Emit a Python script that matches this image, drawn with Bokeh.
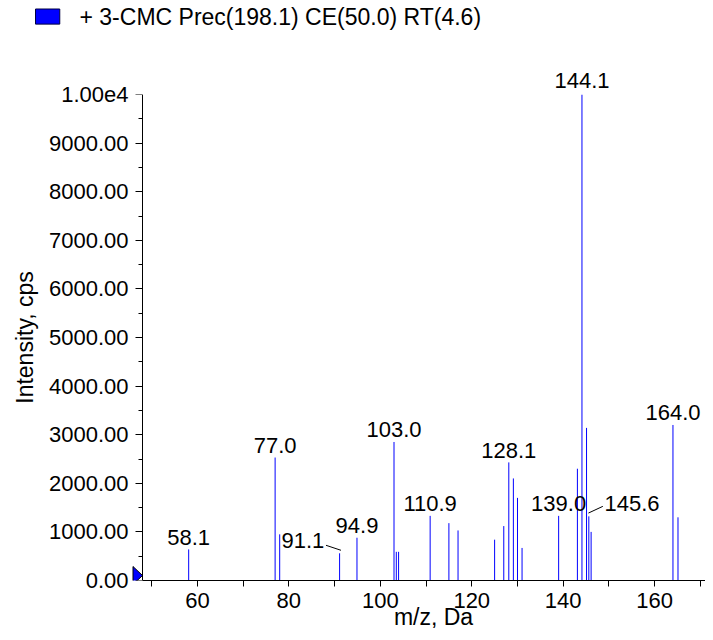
from bokeh.plotting import figure
from bokeh.models import (ColumnDataSource, Range1d, FixedTicker, LabelSet, Label,
                          LinearAxis)
from bokeh.core.properties import value
from bokeh.embed import file_html
from bokeh.resources import INLINE

# ---------------- data ----------------
mz = [58.1, 77.0, 78.0, 91.1, 94.9, 103.0, 103.5, 104.0, 110.9, 115.0, 117.0,
      125.0, 127.0, 128.1, 129.1, 130.0, 131.0, 139.0, 143.1, 144.1, 145.1,
      145.6, 146.1, 164.0, 165.1]
intensity = [640, 2530, 950, 560, 880, 2850, 590, 590, 1330, 1180, 1030,
             840, 1120, 2430, 2100, 1700, 670, 1330, 2300, 10000, 3140,
             1320, 1000, 3200, 1300]
labelled_mz = [58.1, 77.0, 91.1, 94.9, 103.0, 110.9, 128.1, 139.0, 144.1, 145.6, 164.0]

x_ticks = [60, 80, 100, 120, 140, 160]
x_minor_ticks = [50, 70, 90, 110, 130, 150, 170]
y_ticks = [0, 1000, 2000, 3000, 4000, 5000, 6000, 7000, 8000, 9000, 10000]
y_tick_labels = ["0.00", "1000.00", "2000.00", "3000.00", "4000.00", "5000.00",
                 "6000.00", "7000.00", "8000.00", "9000.00", "1.00e4"]
y_minor_ticks = [500, 1500, 2500, 3500, 4500, 5500, 6500, 7500, 8500, 9500]

series_name = "+ 3-CMC Prec(198.1) CE(50.0) RT(4.6)"
x_axis_title = "m/z, Da"
y_axis_title = "Intensity, cps"

# ---------------- layout / style ----------------
W, H = 705, 632
LEFT = 131                        # frame left edge (canvas px)
AXIS_PX = 142                     # y axis line (canvas px)
X_AXIS_START = 48.0               # m/z at the y axis line
TOP, FRAME_H = 94, 486
FRAME_W = W - LEFT
BOTTOM = TOP + FRAME_H            # canvas y of the x axis
X_PX = 4.573                      # pixels per m/z unit
X0 = X_AXIS_START - (AXIS_PX - LEFT) / X_PX
X1 = X0 + FRAME_W / X_PX
Y0, Y1 = 0, 10000
Y_PX = FRAME_H / (Y1 - Y0)
FONT = "Liberation Sans"
BLUE = "#0000ff"
LABEL_SHIFT = 0.435               # Label draws its baseline this many font sizes low


def dx(px):
    """canvas x pixel -> data x"""
    return X0 + (px - LEFT) / X_PX


def dy(py):
    """canvas y pixel -> data y"""
    return Y0 + (BOTTOM - py) / Y_PX


def text_label(px, baseline_py, text, size, align="left"):
    return Label(x=dx(px), y=dy(baseline_py - LABEL_SHIFT * size), text=text,
                 text_align=align, text_baseline="alphabetic",
                 text_font=FONT, text_font_size=f"{size}px", text_color="black")


# callout labels: (align, dx px, dy px, leader (dx0, dy0, dx1, dy1) px)
callouts = {
    91.1: ("right", -15.3, 5.6, (-13.6, 8.0, 1.4, 3.0)),
    145.6: ("left", 15.6, 5.0, (-0.4, 3.3, 14.0, 10.0)),
}
LABEL_GAP = 4.5

p = figure(width=W, height=H, x_range=Range1d(X0, X1), y_range=Range1d(Y0, Y1),
           output_backend="svg", toolbar_location=None, y_axis_location=None,
           min_border_left=LEFT, min_border_right=0, min_border_top=TOP,
           min_border_bottom=H - BOTTOM)
p.outline_line_color = None
p.xgrid.visible = False
p.ygrid.visible = False
p.background_fill_color = "white"
p.border_fill_color = "white"

src = ColumnDataSource(dict(mz=mz, intensity=intensity))
p.segment(x0="mz", y0=0, x1="mz", y1="intensity", source=src,
          line_color=BLUE, line_width=1)

# peak labels
inten_of = dict(zip(mz, intensity))
groups = {}
for m in labelled_mz:
    if inten_of[m] >= Y1:
        # label sits above the plot frame -> free label (not clipped)
        p.add_layout(Label(x=m, y=inten_of[m], text=f"{m:.1f}",
                           y_offset=LABEL_GAP + LABEL_SHIFT * 22,
                           text_align="center", text_baseline="alphabetic",
                           text_font=FONT, text_font_size="22px",
                           text_color="black"), "above")
        continue
    if m in callouts:
        align, ox, oy, _ = callouts[m]
    else:
        align, ox, oy = "center", 0, LABEL_GAP
    groups.setdefault((align, ox, oy), []).append(m)

for (align, ox, oy), ms in groups.items():
    lsrc = ColumnDataSource(dict(x=ms, y=[inten_of[m] for m in ms],
                                 text=[f"{m:.1f}" for m in ms]))
    p.add_layout(LabelSet(x="x", y="y", text="text", source=lsrc,
                          text_align=align, text_baseline="alphabetic",
                          x_offset=ox, y_offset=oy,
                          text_font=value(FONT), text_font_size=value("22px"),
                          text_color="black"))

# leader lines
lx0, ly0, lx1, ly1 = [], [], [], []
for m, (_, _, _, (a, b, c, d)) in callouts.items():
    lx0.append(m + a / X_PX)
    ly0.append(inten_of[m] + b / Y_PX)
    lx1.append(m + c / X_PX)
    ly1.append(inten_of[m] + d / Y_PX)
p.segment(x0=lx0, y0=ly0, x1=lx1, y1=ly1, line_color="black", line_width=1)

# x axis
xa = p.xaxis[0]
xa.ticker = FixedTicker(ticks=x_ticks, minor_ticks=x_minor_ticks)
xa.bounds = (X_AXIS_START, X1)
xa.major_tick_out = 6
xa.major_tick_in = 0
xa.minor_tick_out = 6
xa.minor_tick_in = 0
xa.major_label_standoff = 6
xa.major_label_text_font = FONT
xa.major_label_text_font_size = "22px"
xa.major_label_text_color = "black"
xa.axis_line_color = "black"
xa.major_tick_line_color = "black"
xa.minor_tick_line_color = "black"

# y axis: labels + title (in the left panel, next to the frame)
y_ticker = FixedTicker(ticks=y_ticks, minor_ticks=y_minor_ticks)
ya_text = LinearAxis(ticker=y_ticker, bounds=(Y0, Y1),
                     major_label_overrides={t: l for t, l in zip(y_ticks, y_tick_labels)},
                     axis_line_color=None, major_tick_line_color=None,
                     minor_tick_line_color=None,
                     major_tick_out=0, major_tick_in=0, minor_tick_out=0, minor_tick_in=0,
                     major_label_standoff=3,
                     major_label_text_font=FONT, major_label_text_font_size="22px",
                     major_label_text_color="black",
                     axis_label=y_axis_title, axis_label_text_font=FONT,
                     axis_label_text_font_size="23px", axis_label_text_font_style="normal",
                     axis_label_text_color="black", axis_label_standoff=8)
p.add_layout(ya_text, "left")

# y axis: line + ticks, drawn at m/z = X_AXIS_START
ya_rule = LinearAxis(ticker=y_ticker, bounds=(Y0, Y1), fixed_location=X_AXIS_START,
                     major_label_overrides={t: "" for t in y_ticks},
                     major_label_standoff=0,
                     major_tick_out=7, major_tick_in=0, minor_tick_out=4, minor_tick_in=0,
                     axis_line_color="black", major_tick_line_color="black",
                     minor_tick_line_color="black")
p.add_layout(ya_rule, "left")

# x-axis title
p.add_layout(text_label(433, 627, x_axis_title, 23, align="center"), "above")

# pointer triangle at the origin (inside the frame, left of the y axis)
p.patch(x=[dx(132.5), dx(AXIS_PX), dx(132.5)], y=[dy(566), dy(575), dy(584)],
        fill_color=BLUE, line_color="black", line_width=1)

# legend: swatch + series name
p.add_layout(Label(x=dx(35), y=dy(8.5), text="\u00a0", anchor="top_left",
                   text_font=FONT, text_font_size="1px", text_color=BLUE,
                   padding=dict(left=12, right=12, top=7, bottom=7),
                   background_fill_color=BLUE, border_line_color="#000040",
                   border_line_width=1), "above")
p.add_layout(text_label(79, 26.5, series_name, 23), "above")

open("out.html", "w").write(file_html(p, INLINE))
